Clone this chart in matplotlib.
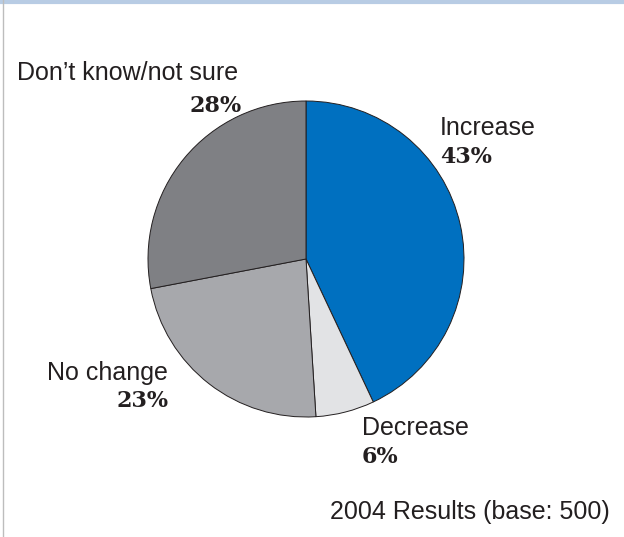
import matplotlib
matplotlib.use("Agg")
import matplotlib.pyplot as plt

categories = ["Increase", "Decrease", "No change", "Don\u2019t know/not sure"]
values = [43, 6, 23, 28]
colors = ["#0070c0", "#e2e3e5", "#a7a8ac", "#7f8084"]

W, H = 624, 537
fig = plt.figure(figsize=(W / 100, H / 100), dpi=100)
ax = fig.add_axes([0, 0, 1, 1])

# pie drawn with inverted y, so counterclock=True reads clockwise on screen
ax.pie(values, colors=colors, startangle=-90, counterclock=True,
       center=(306, 259), radius=158, frame=True,
       wedgeprops=dict(edgecolor="#231f20", linewidth=0.7))
ax.set_xlim(0, W)
ax.set_ylim(H, 0)
ax.set_aspect("equal")
ax.axis("off")

# border lines
ax.axhline(1.5, color="#b8cce4", lw=3)
ax.plot([3, 3], [0, H], color="#bdbdbd", lw=1)

label_font = dict(family="Liberation Sans", fontsize=18, color="#231f20")
pct_font = dict(family="DejaVu Serif", fontsize=16, fontweight="bold", color="#231f20")

pos = {
    "Increase": (440, 128, 157, "left"),
    "Decrease": (362, 428, 457, "left"),
    "No change": (168, 373, 401, "right"),
    "Don\u2019t know/not sure": (17, 73, None, "left"),
}
for name, v in zip(categories, values):
    x, ly, py, ha = pos[name]
    ax.text(x, ly, name, ha=ha, va="center", **label_font)
    if py is not None:
        ax.text(x, py, f"{v}%", ha=ha, va="center", **pct_font)
    else:
        ax.text(242, 106, f"{v}%", ha="right", va="center", **pct_font)

ax.text(610, 512, "2004 Results (base: 500)", ha="right", va="center", **label_font)

fig.savefig("out.png", dpi=100)
